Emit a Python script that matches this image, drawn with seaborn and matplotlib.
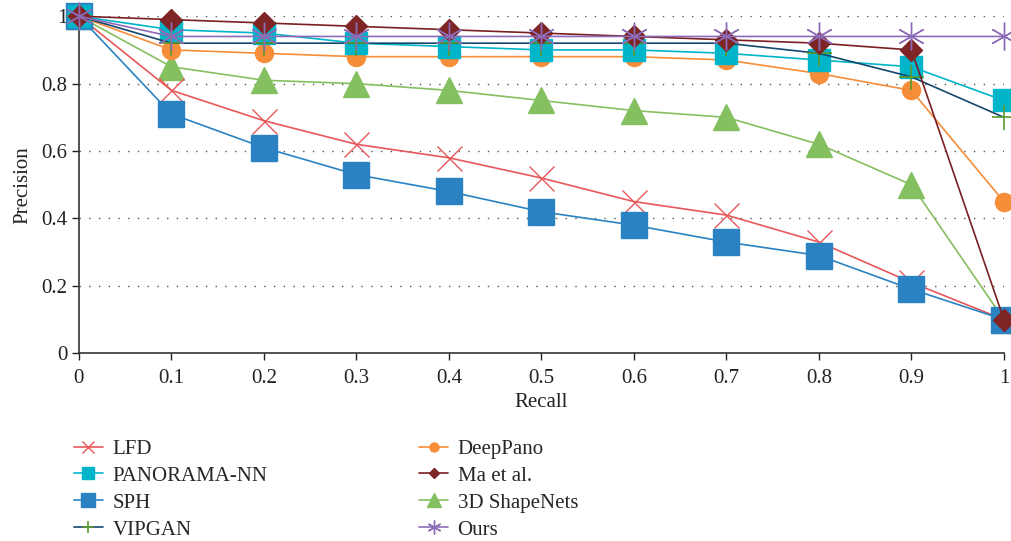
import numpy as np
import pandas as pd
import matplotlib
matplotlib.use("Agg")
import matplotlib.pyplot as plt
import seaborn as sns

recall = [0, 0.1, 0.2, 0.3, 0.4, 0.5, 0.6, 0.7, 0.8, 0.9, 1.0]

lfd = [1.0, 0.78, 0.69, 0.62, 0.58, 0.52, 0.45, 0.41, 0.33, 0.21, 0.10]
panorama_nn = [1.0, 0.96, 0.95, 0.92, 0.91, 0.90, 0.90, 0.89, 0.87, 0.85, 0.75]
sph = [1.0, 0.71, 0.61, 0.53, 0.48, 0.42, 0.38, 0.33, 0.29, 0.19, 0.10]
vipgan = [1.0, 0.92, 0.92, 0.92, 0.92, 0.92, 0.92, 0.92, 0.89, 0.82, 0.70]
deeppano = [1.0, 0.90, 0.89, 0.88, 0.88, 0.88, 0.88, 0.87, 0.83, 0.78, 0.45]
ma_et_al = [1.0, 0.99, 0.98, 0.97, 0.96, 0.95, 0.94, 0.93, 0.92, 0.90, 0.10]
shapenets = [1.0, 0.85, 0.81, 0.80, 0.78, 0.75, 0.72, 0.70, 0.62, 0.50, 0.10]
ours = [1.0, 0.94, 0.94, 0.94, 0.94, 0.94, 0.94, 0.94, 0.94, 0.94, 0.94]

methods = ["LFD", "PANORAMA-NN", "SPH", "VIPGAN",
           "DeepPano", "Ma et al.", "3D ShapeNets", "Ours"]
values = [lfd, panorama_nn, sph, vipgan, deeppano, ma_et_al, shapenets, ours]

# style per method: line colour, marker, marker colour, marker size, zorder
styles = {
    "LFD":          dict(color="#e8585a", marker="x", mc="#e8585a", ms=18, mew=1.0, z=3),
    "PANORAMA-NN":  dict(color="#00b5c9", marker="s", mc="#00b5c9", ms=16, mew=1.0, z=4),
    "SPH":          dict(color="#2a82c2", marker="s", mc="#2a82c2", ms=19, mew=1.0, z=3),
    "VIPGAN":       dict(color="#14476e", marker="+", mc="#5a9a2e", ms=18, mew=1.2, z=5),
    "DeepPano":     dict(color="#f68d38", marker="o", mc="#f68d38", ms=13, mew=1.0, z=3),
    "Ma et al.":    dict(color="#7a1f22", marker="D", mc="#7e2526", ms=11, mew=1.0, z=6),
    "3D ShapeNets": dict(color="#84c060", marker="^", mc="#84c060", ms=19, mew=1.0, z=2),
    "Ours":         dict(color="#8c6bb8", marker=(6, 2, 0), mc="#8c6bb8", ms=20, mew=1.0, z=7),
}

df = pd.DataFrame({"Recall": np.tile(recall, len(methods)),
                   "Precision": np.concatenate(values),
                   "Method": np.repeat(methods, len(recall))})

sns.set_style("white")
plt.rcParams["font.family"] = ["Liberation Serif", "DejaVu Serif"]

fig = plt.figure(figsize=(10.12, 5.41), dpi=100)
ax = fig.add_axes([0.078, 0.347, 0.914, 0.623])

for m in methods:
    s = styles[m]
    sns.lineplot(data=df[df["Method"] == m], x="Recall", y="Precision", ax=ax,
                 color=s["color"], marker=s["marker"], markersize=s["ms"],
                 markerfacecolor=s["mc"], markeredgecolor=s["mc"],
                 markeredgewidth=s["mew"], linewidth=1.2, label=m,
                 zorder=s["z"], clip_on=False)

ax.set_xlim(0, 1)
ax.set_ylim(0, 1)
ax.set_xticks(recall)
ax.set_xticklabels(["0", "0.1", "0.2", "0.3", "0.4", "0.5", "0.6", "0.7", "0.8", "0.9", "1"])
ax.set_yticks([0, 0.2, 0.4, 0.6, 0.8, 1.0])
ax.set_yticklabels(["0", "0.2", "0.4", "0.6", "0.8", "1"])
ax.tick_params(axis="both", direction="out", length=5, width=1, labelsize=15,
               colors="#222222", bottom=True, left=True)
ax.tick_params(axis="x", pad=6)
for sp in ["top", "right"]:
    ax.spines[sp].set_visible(False)
for sp in ["left", "bottom"]:
    ax.spines[sp].set_color("#333333")
    ax.spines[sp].set_linewidth(1.2)
ax.yaxis.grid(True, linestyle=(0, (1, 6)), color="#555555", linewidth=1.0)
ax.set_axisbelow(True)
ax.set_xlabel("Recall", fontsize=15, color="#222222", labelpad=4)
ax.set_ylabel("Precision", fontsize=15, color="#222222", labelpad=6)

handles, labels = ax.get_legend_handles_labels()
if ax.get_legend():
    ax.get_legend().remove()
leg_kw = dict(frameon=False, fontsize=15, markerscale=0.5, handlelength=1.4,
              labelspacing=0.35, handletextpad=0.45, borderaxespad=0, borderpad=0)
leg1 = fig.legend(handles[:4], labels[:4], loc="upper left",
                  bbox_to_anchor=(0.073, 0.188), **leg_kw)
leg2 = fig.legend(handles[4:], labels[4:], loc="upper left",
                  bbox_to_anchor=(0.414, 0.188), **leg_kw)
fig.savefig("out.png", dpi=100)
